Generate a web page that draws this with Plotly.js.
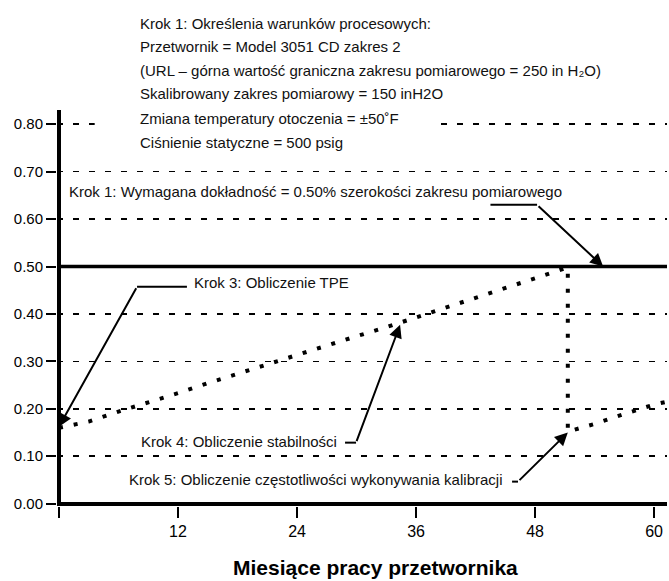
<!DOCTYPE html>
<html>
<head>
<meta charset="utf-8">
<script src="https://cdn.plot.ly/plotly-3.0.1.min.js"></script>
<style>html,body{margin:0;padding:0;background:#fff;}#chart{width:669px;height:581px;}</style>
</head>
<body>
<div id="chart"></div>
<script>
// ---- data ----
const months = [0, 3, 6, 9, 12, 15, 18, 21, 24, 27, 30, 33, 36, 39, 42, 45, 48, 51.3, 51.3, 54, 57, 60, 61.3];
const tpe    = [0.160, 0.173, 0.194, 0.213, 0.233, 0.254, 0.274, 0.295, 0.314, 0.334, 0.353, 0.372, 0.393, 0.414, 0.434, 0.455, 0.475, 0.498, 0.152, 0.168, 0.189, 0.209, 0.215];
const reqMonths = [0, 61.3];
const reqAccuracy = [0.50, 0.50];
const xTickVals = [12, 24, 36, 48, 60];
const xTickText = ['12', '24', '36', '48', '60'];
const xOriginTick = [0];
const yTickVals = [0, 0.1, 0.2, 0.3, 0.4, 0.5, 0.6, 0.7, 0.8];
const headerLines = [
  'Krok 1: Określenia warunków procesowych:',
  'Przetwornik = Model 3051 CD zakres 2',
  '(URL – górna wartość graniczna zakresu pomiarowego = 250 in H₂O)',
  'Skalibrowany zakres pomiarowy = 150 inH2O',
  'Zmiana temperatury otoczenia = ±50˚F',
  'Ciśnienie statyczne = 500 psig'
];
const headerY = [1.218, 1.160, 1.0996, 1.0414, 0.9783, 0.9177];
const step1Text = 'Krok 1: Wymagana dokładność = 0.50% szerokości zakresu pomiarowego';
const step3Text = 'Krok 3: Obliczenie TPE';
const step4Text = 'Krok 4: Obliczenie stabilności';
const step5Text = 'Krok 5: Obliczenie częstotliwości wykonywania kalibracji';
const xTitle = 'Miesiące pracy przetwornika';

const FONT = '"Liberation Sans", Arial, Helvetica, "DejaVu Sans", sans-serif';
const txtFont = {family: FONT, size: 15, color: '#111'};

const traces = [
  {x: reqMonths, y: reqAccuracy, mode: 'lines', line: {color: '#000', width: 3.5}, hoverinfo: 'skip'},
  {x: months, y: tpe, mode: 'lines', line: {color: '#000', width: 4, dash: '4px,11px'}, hoverinfo: 'skip'}
];

const annotations = [];
headerLines.forEach((t, i) => {
  annotations.push({text: t, x: 0.1344, y: headerY[i], xref: 'paper', yref: 'paper', xanchor: 'left', yanchor: 'middle',
    showarrow: false, font: txtFont, borderpad: 0});
});
function label(t, x, y, xanchor) {
  annotations.push({text: t, x: x, y: y, xref: 'x', yref: 'y', xanchor: xanchor, yanchor: 'middle',
    showarrow: false, font: txtFont, borderpad: 0});
}
function arrow(tx, ty, hx, hy) {
  annotations.push({text: '', x: hx, y: hy, ax: tx, ay: ty, xref: 'x', yref: 'y', axref: 'x', ayref: 'y',
    showarrow: true, arrowhead: 2, arrowsize: 1.3, arrowwidth: 2, arrowcolor: '#000', standoff: 0, startstandoff: 0});
}
label(step1Text, 0.9, 0.659, 'left');
arrow(48.2, 0.630, 54.86, 0.50);
label(step3Text, 13.5, 0.466, 'left');
arrow(7.87, 0.4575, 0, 0.162);
label(step4Text, 28.1, 0.131, 'right');
arrow(29.95, 0.1286, 34.39, 0.377);
label(step5Text, 44.77, 0.0506, 'right');
arrow(46.28, 0.0464, 51.3, 0.150);
annotations.push({text: '<b>' + xTitle + '</b>', xref: 'paper', yref: 'paper', x: 0.522, y: -0.156,
  xanchor: 'center', yanchor: 'middle', showarrow: false,
  font: {family: FONT, size: 21, color: '#000'}});

const seg = (x0, y0, x1, y1) => ({type: 'line', xref: 'x', yref: 'y', x0: x0, y0: y0, x1: x1, y1: y1,
  line: {color: '#000', width: 2}});
const shapes = [
  {type: 'rect', xref: 'x', yref: 'y', x0: 3.6, x1: 38.2, y0: 0.79, y1: 0.835, fillcolor: '#fff', line: {width: 0}, layer: 'between'},
  seg(43.5, 0.630, 48.2, 0.630),
  seg(7.87, 0.4575, 12.9, 0.4575),
  seg(28.84, 0.1286, 29.95, 0.1286),
  seg(45.68, 0.0464, 46.28, 0.0464)
];

const layout = {
  width: 669, height: 581,
  margin: {l: 57, r: 2, t: 110, b: 75},
  paper_bgcolor: '#fff', plot_bgcolor: '#fff',
  showlegend: false,
  xaxis: {range: [-0.2, 61.3], tickmode: 'array', tickvals: xTickVals, ticktext: xTickText,
    ticks: 'outside', ticklen: 11, tickwidth: 2, tickcolor: '#000',
    minor: {tickmode: 'array', tickvals: xOriginTick, ticks: 'outside', ticklen: 11, tickwidth: 2, tickcolor: '#000', showgrid: false},
    showgrid: false, showline: false, zeroline: true, zerolinewidth: 4, zerolinecolor: '#000',
    tickfont: {family: FONT, size: 16, color: '#000'}, fixedrange: true},
  yaxis: {range: [-0.005, 0.83], tickmode: 'array', tickvals: yTickVals, tickformat: '.2f',
    ticks: 'outside', ticklen: 10, tickwidth: 2, tickcolor: '#000',
    showgrid: true, gridcolor: '#000', gridwidth: 1.5, griddash: '6px,10px',
    showline: false, zeroline: true, zerolinewidth: 4, zerolinecolor: '#000',
    tickfont: {family: FONT, size: 15, color: '#000'}, fixedrange: true},
  annotations: annotations,
  shapes: shapes
};

Plotly.newPlot('chart', traces, layout, {staticPlot: true, displayModeBar: false});
</script>
</body>
</html>
